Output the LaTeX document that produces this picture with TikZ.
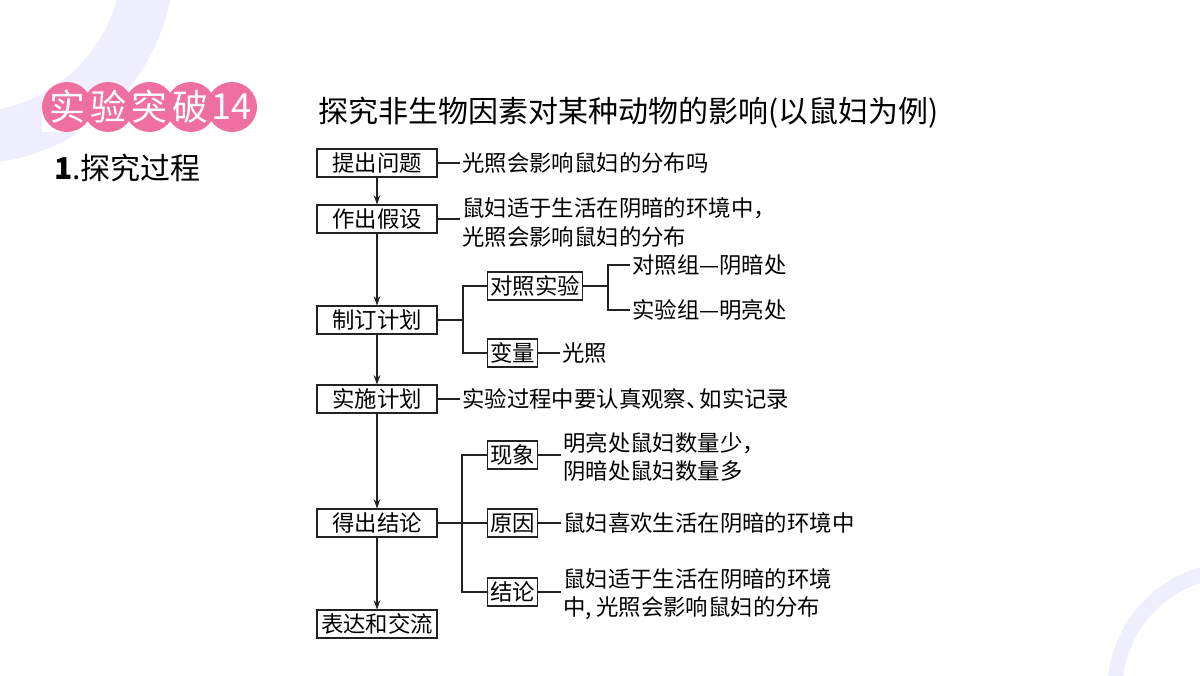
\documentclass[tikz,border=0pt]{standalone}
\usepackage{fontspec}
\newfontfamily\cjk{Noto Sans CJK SC}
\usetikzlibrary{arrows.meta}
\definecolor{ringc}{HTML}{EFEEFC}
\definecolor{pinkc}{HTML}{EE6FA0}
\definecolor{linec}{HTML}{222222}
\newcommand{\flowfont}{\cjk\fontsize{16.8pt}{21pt}\selectfont}
\begin{document}
\begin{tikzpicture}[x=0.75pt,y=-0.75pt,
  box/.style={draw=linec, line width=0.8pt, inner xsep=2.25pt, inner ysep=0pt,
              minimum height=21pt, font=\flowfont, fill=white},
  mainbox/.style={box, minimum width=90pt},
  txt/.style={font=\flowfont, inner xsep=1.5pt, inner ysep=0pt, anchor=west, align=left},
  ln/.style={draw=linec, line width=0.8pt},
  arr/.style={ln, -{Stealth[length=7pt,width=5pt]}},
  badge/.style={font=\cjk\fontsize{27pt}{30pt}\selectfont, text=white, inner sep=0pt}
]
\useasboundingbox (0,0) rectangle (1200,675);
\fill[white] (0,0) rectangle (1200,675);
% background rings
\begin{scope}
  \clip (0,0) rectangle (1200,675);
  \draw[ringc, line width=39pt] (-30,-40) circle (178);
  \draw[ringc, line width=11.25pt] (1235,690) circle (120);
\end{scope}
% badge
\fill[white] (42,97) rectangle (257,132);
\foreach \cx in {67,108.25,149.5,190.75,232}{
  \fill[pinkc] (\cx,107) circle (25);
}
\node[badge] (b1) at (67,107) {实};
\node[badge] (b2) at (108.25,107) {验};
\node[badge] (b3) at (149.5,107) {突};
\node[badge] (b4) at (190.75,107) {破};
\node[badge] (b5) at (231,107) {14};
% headings
\node[font=\cjk\fontsize{22.5pt}{26pt}\selectfont, anchor=west, inner sep=0pt] (h1) at (54,168) {{\bfseries 1}.探究过程};
\node[font=\cjk\fontsize{22.5pt}{26pt}\selectfont, anchor=west, inner sep=0pt] (title) at (318,113) {探究非生物因素对某种动物的影响(以鼠妇为例)};
% main column
\node[mainbox] (p1) at (377,163) {提出问题};
\node[mainbox] (p2) at (377,219) {作出假设};
\node[mainbox] (p3) at (377,320) {制订计划};
\node[mainbox] (p4) at (377,399) {实施计划};
\node[mainbox] (p5) at (377,523) {得出结论};
\node[mainbox] (p6) at (377,624) {表达和交流};
\draw[arr] (p1) -- (p2);
\draw[arr] (p2) -- (p3);
\draw[arr] (p3) -- (p4);
\draw[arr] (p4) -- (p5);
\draw[arr] (p5) -- (p6);
% side boxes
\node[box] (c1) at (535,286) {对照实验};
\node[box] (c2) at (512.5,353) {变量};
\node[box] (r1) at (512.5,455) {现象};
\node[box] (r2) at (512.5,523) {原因};
\node[box] (r3) at (512.5,592) {结论};
% texts
\node[txt] (t1) at (460,163) {光照会影响鼠妇的分布吗};
\node[txt] (t2) at (460,222.5) {鼠妇适于生活在阴暗的环境中，\\[0.9pt]光照会影响鼠妇的分布};
\node[txt] (t3) at (630,265) {对照组—阴暗处};
\node[txt] (t4) at (630,310) {实验组—明亮处};
\node[txt] (t5) at (560,353) {光照};
\node[txt] (t6) at (460,399) {实验过程中要认真观察、\kern-0.4em 如实记录};
\node[txt] (t7) at (561,456.5) {明亮处鼠妇数量少，\\阴暗处鼠妇数量多};
\node[txt] (t8) at (561,523) {鼠妇喜欢生活在阴暗的环境中};
\node[txt] (t9) at (561,594) {鼠妇适于生活在阴暗的环境\\中,\hspace{0.2em}光照会影响鼠妇的分布};
% junctions
\coordinate (j3) at (463,320);
\coordinate (j4) at (608,286);
\coordinate (j5) at (462,523);
% connectors
\draw[ln] (p1.east) -- (t1.west);
\draw[ln] (p2.east) -- (p2.east -| t2.west);
\draw[ln] (p3.east) -- (j3);
\draw[ln] (c1.west) -| (j3) |- (c2.west);
\draw[ln] (c1.east) -- (j4);
\draw[ln] (t3.west) -| (j4) |- (t4.west);
\draw[ln] (c2.east) -- (t5.west);
\draw[ln] (p4.east) -- (t6.west);
\draw[ln] (p5.east) -- (j5);
\draw[ln] (r1.west) -| (j5) |- (r3.west);
\draw[ln] (j5) -- (r2.west);
\draw[ln] (r1.east) -- (r1.east -| t7.west);
\draw[ln] (r2.east) -- (t8.west);
\draw[ln] (r3.east) -- (r3.east -| t9.west);
\end{tikzpicture}
\end{document}
